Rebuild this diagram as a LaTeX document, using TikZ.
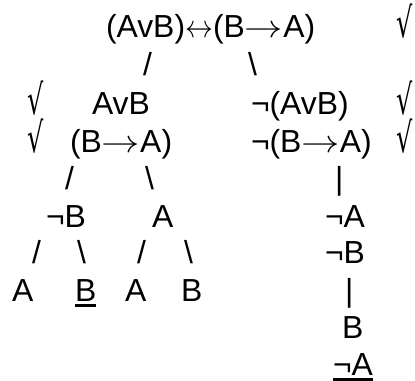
\documentclass[tikz,border=0pt]{standalone}
\usepackage{fontspec}
\setmainfont{Liberation Sans}
\newfontfamily\symfont{DejaVu Sans}
\usepackage{graphicx}
% open-headed arrows (10pt math arrows blown up) and a tall check mark
\newcommand{\rarr}{\scalebox{3.85}[3.2]{\fontsize{10}{12}\selectfont$\rightarrow$}}
\newcommand{\lrarr}{\scalebox{2.8}[3.2]{\fontsize{10}{12}\selectfont$\leftrightarrow$}}
\newcommand{\tick}{\raisebox{0pt}[0.8em][0.05em]{\scalebox{0.8}[1.3]{\symfont √}}}
\begin{document}
\begin{tikzpicture}[x=1bp,y=-1bp,
  txt/.style={anchor=base west,inner sep=0pt,outer sep=0pt,
    font=\fontsize{32}{37}\selectfont},
  uline/.style={line width=2.4bp}]
\useasboundingbox[fill=white] (0,0) rectangle (415,381);
% row 1
\node[txt] (root) at (106,37) {(AvB)\lrarr(B\rarr A)};
\node[txt] (c1) at (396,37) {\tick};
% row 2
\node[txt] (s21) at (143,75) {/};
\node[txt] (s22) at (248,75) {\textbackslash};
% row 3
\node[txt] (c31) at (28,114) {\tick};
\node[txt] (l1) at (92,114) {AvB};
\node[txt] (r1) at (251,114) {¬(AvB)};
\node[txt] (c32) at (396,114) {\tick};
% row 4
\node[txt] (c41) at (28,152) {\tick};
\node[txt] (l2) at (70,152) {(B\rarr A)};
\node[txt] (r2) at (251,152) {¬(B\rarr A)};
\node[txt] (c42) at (396,152) {\tick};
% row 5
\node[txt] (s51) at (65,189) {/};
\node[txt] (s52) at (145,189) {\textbackslash};
\node[txt] (s53) at (335,189) {|};
% row 6
\node[txt] (ll) at (46,227) {¬B};
\node[txt] (lr) at (152,227) {A};
\node[txt] (r3) at (325,227) {¬A};
% row 7
\node[txt] (s71) at (32,263) {/};
\node[txt] (s72) at (77,263) {\textbackslash};
\node[txt] (s73) at (137,263) {/};
\node[txt] (s74) at (184,263) {\textbackslash};
\node[txt] (r4) at (325,263) {¬B};
% row 8
\node[txt] (a1) at (12,301) {A};
\node[txt] (b1) at (75,301) {B};
\node[txt] (a2) at (125,301) {A};
\node[txt] (b2) at (181,301) {B};
\node[txt] (s83) at (345,301) {|};
% row 9
\node[txt] (r5) at (342,338) {B};
% row 10
\node[txt] (r6) at (333,375) {¬A};
% closed branches
\draw[uline] ([yshift=-4.5bp]b1.base west) -- ([yshift=-4.5bp]b1.base east);
\draw[uline] ([yshift=-4.5bp]r6.base west) -- ([yshift=-4.5bp]r6.base east);
\end{tikzpicture}
\end{document}
